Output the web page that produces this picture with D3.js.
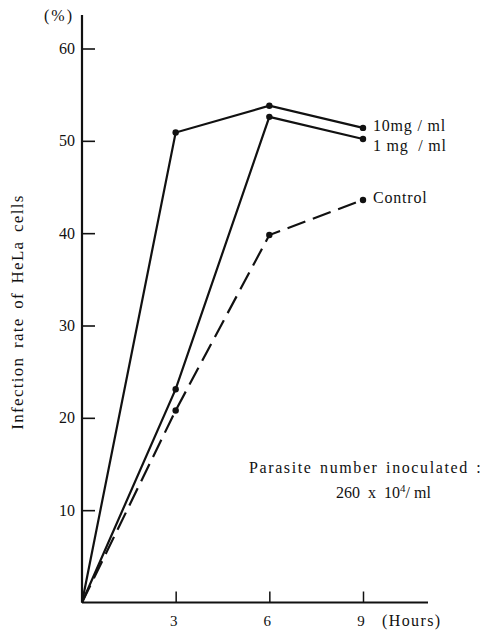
<!DOCTYPE html>
<html>
<head>
<meta charset="utf-8">
<script src="https://cdn.jsdelivr.net/npm/d3@7"></script>
<style>
  body { margin: 0; background: #fff; }
  text { font-family: "Liberation Serif", "DejaVu Serif", serif; fill: #111; }
</style>
</head>
<body>
<div id="container"></div>
<script>
//chart data
var hours = [0, 3, 6, 9];
var dose10 = [0, 50.9, 53.8, 51.4];
var dose1 = [0, 23.1, 52.6, 50.2];
var control = [0, 20.8, 39.8, 43.6];
var yTicks = [10, 20, 30, 40, 50, 60];
var xTicks = [3, 6, 9];

var width = 491, height = 637;
var margin = {left: 82, top: 15, bottom: 34};

var svg = d3.select("#container")
    .append("svg")
    .attr("width", width)
    .attr("height", height);

//scales
var x = d3.scaleLinear().domain([0, 9]).range([margin.left, 363]);
var y = d3.scaleLinear().domain([0, 60]).range([height - margin.bottom - 0.5, 48.5]);

//y axis with ticks pointing inward
var yAxis = svg.append("g")
    .attr("transform", "translate(" + margin.left + ",0)")
    .call(d3.axisRight(y).tickValues(yTicks).tickSize(13).tickFormat(""));
yAxis.select(".domain").remove();
yAxis.selectAll(".tick line").attr("stroke", "#111").attr("stroke-width", 1.6);
svg.append("line")
    .attr("x1", margin.left).attr("x2", margin.left)
    .attr("y1", margin.top).attr("y2", y(0))
    .attr("stroke", "#111").attr("stroke-width", 2.2);

//y tick labels
svg.append("g").selectAll("text")
    .data(yTicks)
    .enter().append("text")
    .attr("x", margin.left - 7)
    .attr("y", function(d) { return y(d); })
    .attr("dy", "0.35em")
    .attr("text-anchor", "end")
    .style("font-size", "16px")
    .text(function(d) { return d; });

//x axis with ticks pointing up
var xAxis = svg.append("g")
    .attr("transform", "translate(0," + y(0) + ")")
    .call(d3.axisTop(x).tickValues(xTicks).tickSize(11).tickFormat(""));
xAxis.select(".domain").remove();
xAxis.selectAll(".tick line").attr("stroke", "#111").attr("stroke-width", 1.5);
svg.append("line")
    .attr("x1", margin.left).attr("x2", 428)
    .attr("y1", y(0)).attr("y2", y(0))
    .attr("stroke", "#111").attr("stroke-width", 2.2);

//x tick labels
svg.append("g").selectAll("text")
    .data(xTicks)
    .enter().append("text")
    .attr("x", function(d) { return x(d) - 2; })
    .attr("y", y(0) + 23)
    .attr("text-anchor", "middle")
    .style("font-size", "15px")
    .text(function(d) { return d; });

svg.append("text")
    .attr("x", 382).attr("y", y(0) + 23)
    .style("font-size", "16px")
    .style("letter-spacing", "1.4px")
    .text("(Hours)");

svg.append("text")
    .attr("x", 44).attr("y", 21)
    .style("font-size", "16px")
    .style("letter-spacing", "2px")
    .text("(%)");

//y axis title
svg.append("text")
    .attr("transform", "translate(23,312) rotate(-90)")
    .attr("text-anchor", "middle")
    .style("font-size", "17px")
    .style("letter-spacing", "1.3px")
    .style("word-spacing", "3px")
    .text("Infection rate of HeLa cells");

//series lines
var line = d3.line()
    .x(function(d) { return x(d[0]); })
    .y(function(d) { return y(d[1]); });

var series = [
    {name: "10mg / ml", values: dose10, dash: null, labelDy: 0},
    {name: "1 mg  / ml", values: dose1, dash: null, labelDy: 9},
    {name: "Control", values: control, dash: "19,8", labelDy: 0}
];

series.forEach(function(s) {
    var pts = hours.map(function(h, i) { return [h, s.values[i]]; });
    svg.append("path")
        .datum(pts)
        .attr("d", line)
        .attr("fill", "none")
        .attr("stroke", "#111")
        .attr("stroke-width", 2.2)
        .attr("stroke-dasharray", s.dash);
    svg.append("g").selectAll("circle")
        .data(pts.slice(1))
        .enter().append("circle")
        .attr("cx", function(d) { return x(d[0]); })
        .attr("cy", function(d) { return y(d[1]); })
        .attr("r", 3.2)
        .attr("fill", "#111");
    var last = pts[pts.length - 1];
    svg.append("text")
        .attr("x", x(last[0]) + 10)
        .attr("y", y(last[1]) + s.labelDy)
        .attr("dy", "0.2em")
        .style("font-size", "16px")
        .style("letter-spacing", "0.8px")
        .style("white-space", "pre")
        .text(s.name);
});

//annotation
svg.append("text")
    .attr("x", 249).attr("y", 473)
    .style("font-size", "16px")
    .style("letter-spacing", "1.6px")
    .style("word-spacing", "2px")
    .text("Parasite number inoculated :");
var ann = svg.append("text")
    .attr("x", 336).attr("y", 498)
    .style("font-size", "16px")
    .style("white-space", "pre");
ann.append("tspan").text("260  x  10");
ann.append("tspan").attr("dy", -6).style("font-size", "11px").text("4");
ann.append("tspan").attr("dy", 6).text("/ ml");
</script>
</body>
</html>
